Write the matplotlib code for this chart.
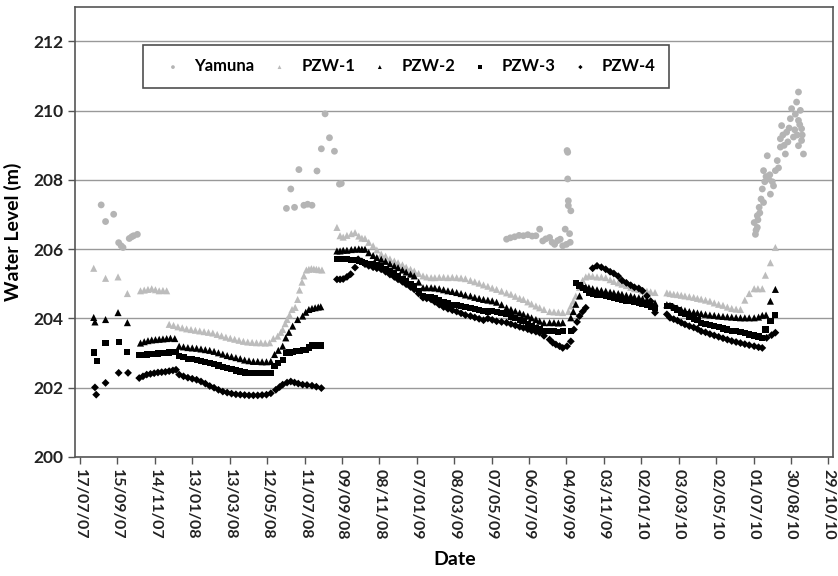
import matplotlib.pyplot as plt
import matplotlib.dates as mdates
import pandas as pd

# --- Data (days after 17/07/2007, water level in m) ---
START = "2007-07-17"

yamuna_day = [34, 41, 54, 62, 66, 69, 79, 83, 86, 92,
              331, 338, 344, 351, 359, 365, 372, 380, 387, 393, 400, 408, 416, 419,
              684, 690, 697, 704, 711, 718, 725, 731, 737, 742, 747, 753, 757, 761,
              766, 770, 774, 778, 780, 781, 782, 782, 783, 783, 787, 785, 786,
              1081, 1083, 1084, 1086, 1086, 1087, 1089, 1090, 1092, 1094, 1096, 1096,
              1098, 1100, 1102, 1104, 1106, 1107, 1110, 1112, 1115, 1118, 1120, 1123,
              1123, 1125, 1127, 1129, 1131, 1133, 1135, 1137, 1139, 1141, 1144, 1146,
              1147, 1149, 1150, 1152, 1152, 1152, 1154, 1155, 1157, 1157, 1158, 1160]
yamuna_val = [207.28, 206.80, 207.01, 206.19, 206.10, 206.05, 206.31, 206.36, 206.39, 206.43,
              207.18, 207.74, 207.21, 208.30, 207.27, 207.30, 207.27, 208.26, 208.90, 209.91,
              209.22, 208.83, 207.88, 207.90,
              206.29, 206.33, 206.36, 206.40, 206.39, 206.42, 206.38, 206.39, 206.58, 206.24,
              206.30, 206.34, 206.20, 206.14, 206.25, 206.29, 206.10, 206.58, 206.14, 208.85,
              208.80, 208.03, 207.40, 207.26, 207.11, 206.45, 206.20,
              206.77, 206.43, 206.55, 206.63, 206.97, 206.85, 207.21, 207.05, 207.45, 207.74,
              207.35, 208.27, 207.95, 208.10, 208.70, 208.03, 208.15, 207.59, 207.95, 207.83,
              208.27, 208.56, 208.35, 209.19, 208.95, 209.57, 209.30, 209.00, 208.75, 209.38,
              209.10, 209.50, 209.77, 210.06, 209.24, 209.45, 209.90, 210.25, 209.30, 210.54,
              209.72, 208.99, 209.60, 210.01, 209.48, 209.14, 209.30, 208.75]

pzw1_day = [22, 41, 61, 76,
            97, 103, 109, 115, 121, 127, 133, 139,
            143, 150, 157, 164, 171, 178, 185, 192, 199, 206, 213, 220, 227, 234, 241,
            248, 255, 262, 269, 276, 283, 290, 297, 304, 310, 317, 322, 325, 329, 332,
            336, 340, 345, 349, 352, 356, 359, 363, 367, 371, 375, 379, 383, 388,
            412, 417, 422, 428, 435, 441, 447, 452, 457, 463, 470, 476, 483, 490, 497,
            504, 510, 517, 523, 530, 536, 543, 550, 556, 563, 569, 576, 583, 590, 597,
            604, 611, 618, 626, 633, 640, 647, 654, 661, 668, 676, 684, 691, 698, 705,
            711, 718, 724, 731, 737, 744, 753, 760, 767, 774, 783, 787, 791, 795, 801,
            806, 811, 816, 822, 829, 836, 843, 850, 856, 863, 869, 876, 883, 889, 896,
            902, 909, 915, 922,
            941, 946, 952, 958, 964, 970, 977, 984, 990, 996, 1003, 1010, 1017, 1024,
            1031, 1038, 1045, 1052, 1059, 1066, 1073, 1081, 1087, 1094, 1099, 1107, 1115]
pzw1_val = [205.45, 205.16, 205.20, 204.72,
            204.80, 204.82, 204.84, 204.86, 204.83, 204.80, 204.81, 204.80,
            203.83, 203.80, 203.76, 203.73, 203.70, 203.68, 203.66, 203.64, 203.62, 203.60,
            203.58, 203.54, 203.50, 203.46, 203.43, 203.40, 203.37, 203.34, 203.32, 203.31,
            203.30, 203.30, 203.29, 203.30, 203.42, 203.49, 203.60, 203.68, 203.85, 203.97,
            204.10, 204.26, 204.32, 204.55, 204.82, 205.05, 205.23, 205.40, 205.42, 205.44,
            205.43, 205.42, 205.41, 205.40,
            206.63, 206.39, 206.35, 206.40, 206.45, 206.48, 206.38, 206.32, 206.31, 206.20,
            206.10, 205.98, 205.86, 205.80, 205.72, 205.66, 205.61, 205.55, 205.48, 205.42,
            205.37, 205.30, 205.23, 205.20, 205.18, 205.18, 205.19, 205.19, 205.18, 205.19,
            205.18, 205.17, 205.15, 205.10, 205.06, 205.02, 204.97, 204.93, 204.88, 204.84,
            204.79, 204.74, 204.70, 204.64, 204.58, 204.55, 204.48, 204.42, 204.36, 204.31,
            204.26, 204.20, 204.19, 204.18, 204.17, 204.20, 204.36, 204.50, 204.65, 204.90,
            205.10, 205.20, 205.23, 205.22, 205.20, 205.20, 205.18, 205.12, 205.07, 205.03,
            204.99, 204.95, 204.90, 204.86, 204.84, 204.80, 204.79, 204.77, 204.75,
            204.74, 204.72, 204.70, 204.69, 204.67, 204.65, 204.63, 204.61, 204.58,
            204.56, 204.53, 204.50, 204.45, 204.41, 204.38, 204.33, 204.29, 204.27, 204.26,
            204.53, 204.72, 204.86, 204.86, 204.86, 205.25, 205.61, 206.05]

pzw2_day = [22, 24, 41, 61, 76,
            97, 103, 109, 115, 121, 127, 133, 139, 145, 152,
            159, 166, 173, 180, 187, 194, 201, 208, 215, 222, 229, 236, 243, 250, 257,
            264, 271, 278, 285, 292, 299, 306, 312, 318, 325, 330, 335, 341, 349, 357,
            362, 367, 372, 377, 382, 386,
            412, 417, 422, 428, 435, 441, 447, 452, 457, 463, 470, 476, 483, 490, 497,
            504, 510, 517, 523, 530, 536, 543, 550, 556, 563, 569, 576, 583, 590, 597,
            604, 611, 618, 626, 633, 640, 647, 654, 661, 668, 676, 684, 691, 698, 705,
            711, 718, 724, 731, 737, 744, 753, 760, 767, 774, 787, 791, 795, 801, 806,
            811, 816, 822, 829, 836, 843, 850, 856, 863, 869, 876, 883, 889, 896, 902,
            909, 915, 922,
            941, 946, 952, 958, 964, 970, 977, 984, 990, 996, 1003, 1010, 1017, 1024,
            1031, 1038, 1045, 1052, 1059, 1066, 1073, 1081, 1088, 1094, 1100, 1107, 1115]
pzw2_val = [204.03, 203.90, 203.97, 204.17, 203.88,
            203.29, 203.33, 203.36, 203.38, 203.39, 203.40, 203.41, 203.42, 203.43, 203.42,
            203.20, 203.18, 203.16, 203.15, 203.14, 203.12, 203.10, 203.08, 203.05, 203.01,
            202.97, 202.93, 202.90, 202.87, 202.84, 202.80, 202.78, 202.76, 202.76, 202.75,
            202.75, 202.76, 202.96, 203.08, 203.20, 203.44, 203.60, 203.78, 203.97, 204.07,
            204.18, 204.26, 204.29, 204.31, 204.33, 204.34,
            205.95, 205.95, 205.97, 205.97, 205.99, 206.00, 206.01, 206.00, 206.00, 205.90,
            205.82, 205.76, 205.71, 205.65, 205.58, 205.52, 205.47, 205.40, 205.34, 205.28,
            205.23, 205.05, 204.89, 204.89, 204.89, 204.88, 204.86, 204.83, 204.80, 204.78,
            204.75, 204.72, 204.68, 204.65, 204.61, 204.58, 204.55, 204.53, 204.51, 204.47,
            204.40, 204.31, 204.26, 204.21, 204.16, 204.12, 204.07, 204.02, 203.97, 203.92,
            203.88, 203.88, 203.88, 203.87, 203.88, 204.02, 204.20, 204.41, 204.65, 204.93,
            204.91, 204.89, 204.86, 204.83, 204.81, 204.79, 204.76, 204.74, 204.72, 204.70,
            204.67, 204.65, 204.62, 204.60, 204.57, 204.54, 204.50, 204.45,
            204.40, 204.38, 204.34, 204.30, 204.26, 204.23, 204.20, 204.18, 204.16, 204.14,
            204.12, 204.10, 204.09, 204.07, 204.06, 204.05, 204.04, 204.03, 204.02, 204.02,
            204.02, 204.02, 204.04, 204.09, 204.10, 204.50, 204.84]

pzw3_day = [22, 27, 41, 62, 76,
            95, 101, 107, 113, 119, 125, 131, 137, 143, 149, 154,
            159, 166, 173, 180, 187, 194, 201, 208, 215, 222, 229, 236, 243, 250, 257,
            264, 271, 278, 285, 292, 299, 306, 312, 318, 325, 330, 336, 341, 346, 352,
            357, 362, 367, 372, 379, 386,
            412, 417, 422, 428, 435, 441, 447, 452, 457, 463, 470, 476, 483, 490, 497,
            504, 510, 517, 523, 530, 536, 543, 550, 556, 563, 569, 576, 583, 590, 597,
            604, 611, 618, 626, 633, 640, 647, 654, 661, 668, 676, 684, 691, 698, 705,
            711, 718, 724, 731, 737, 744, 753, 760, 767, 774, 787, 795, 801, 806, 811,
            816, 822, 829, 836, 843, 850, 856, 863, 869, 876, 883, 889, 896, 902, 909,
            915, 922,
            941, 946, 952, 958, 964, 970, 977, 984, 990, 996, 1003, 1010, 1017, 1024,
            1031, 1038, 1045, 1052, 1059, 1066, 1073, 1081, 1088, 1094, 1099, 1107, 1115]
pzw3_val = [203.02, 202.78, 203.29, 203.32, 203.03,
            202.94, 202.95, 202.96, 202.97, 202.98, 202.99, 203.00, 203.01, 203.02, 203.03,
            203.04,
            202.91, 202.88, 202.84, 202.82, 202.80, 202.77, 202.75, 202.72, 202.68, 202.64,
            202.60, 202.57, 202.53, 202.50, 202.47, 202.44, 202.43, 202.42, 202.42, 202.42,
            202.42, 202.43, 202.62, 202.71, 202.80, 203.00, 203.02, 203.04, 203.05, 203.07,
            203.09, 203.10, 203.16, 203.22, 203.22, 203.22,
            205.71, 205.71, 205.72, 205.72, 205.70, 205.68, 205.66, 205.64, 205.61, 205.58,
            205.56, 205.54, 205.52, 205.44, 205.37, 205.30, 205.23, 205.15, 205.08, 205.00,
            204.93, 204.79, 204.65, 204.63, 204.61, 204.58, 204.53, 204.48, 204.43, 204.40,
            204.38, 204.35, 204.33, 204.31, 204.28, 204.25, 204.22, 204.20, 204.22, 204.18,
            204.15, 204.12, 204.06, 204.01, 203.96, 203.92, 203.85, 203.79, 203.73, 203.68,
            203.65, 203.63, 203.63, 203.62, 203.63, 203.63, 205.03, 204.95, 204.89, 204.82,
            204.74, 204.71, 204.69, 204.67, 204.65, 204.62, 204.60, 204.57, 204.55, 204.52,
            204.50, 204.47, 204.45, 204.42, 204.38, 204.34, 204.31,
            204.36, 204.36, 204.30, 204.24, 204.17, 204.12, 204.06, 204.00, 203.95, 203.88,
            203.85, 203.81, 203.78, 203.75, 203.71, 203.68, 203.65, 203.63, 203.60, 203.57,
            203.54, 203.51, 203.48, 203.44, 203.68, 203.92, 204.09]

pzw4_day = [24, 26, 41, 62, 77,
            95, 101, 107, 113, 119, 125, 131, 137, 143, 149, 154,
            159, 166, 173, 180, 187, 194, 201, 208, 215, 222, 229, 236, 243, 250, 257,
            264, 271, 278, 285, 292, 299, 306, 314, 320, 325, 332, 338, 344, 350, 357,
            364, 372, 379, 387,
            412, 417, 422, 428, 434, 441, 446, 452, 457, 463, 470, 476, 483, 490, 497,
            504, 510, 517, 523, 530, 536, 543, 550, 556, 563, 569, 576, 583, 590, 597,
            604, 611, 618, 626, 633, 640, 647, 654, 661, 668, 676, 684, 691, 698, 705,
            711, 718, 724, 731, 737, 744, 753, 758, 763, 769, 774, 781, 787, 792, 797,
            801, 806, 811,
            822, 829, 836, 843, 850, 856, 863, 869, 876, 883, 889, 896, 902, 909, 915,
            922,
            941, 946, 952, 958, 964, 970, 977, 984, 990, 996, 1003, 1010, 1017, 1024,
            1031, 1038, 1045, 1052, 1059, 1066, 1073, 1081, 1088, 1094, 1101, 1109, 1115]
pzw4_val = [202.01, 201.80, 202.14, 202.43, 202.43,
            202.28, 202.33, 202.38, 202.40, 202.42, 202.44, 202.45, 202.46, 202.48, 202.50,
            202.52,
            202.38, 202.33, 202.29, 202.26, 202.23, 202.18, 202.12, 202.05, 202.00, 201.94,
            201.89, 201.86, 201.83, 201.81, 201.80, 201.79, 201.78, 201.78, 201.78, 201.79,
            201.80, 201.84, 201.94, 202.02, 202.09, 202.15, 202.18, 202.15, 202.12, 202.09,
            202.08, 202.06, 202.03, 201.99,
            205.13, 205.13, 205.14, 205.20, 205.28, 205.47, 205.71, 205.65, 205.57, 205.52,
            205.48, 205.45, 205.42, 205.35, 205.27, 205.20, 205.13, 205.06, 204.99, 204.91,
            204.84, 204.72, 204.60, 204.58, 204.55, 204.48, 204.40, 204.33, 204.28, 204.24,
            204.20, 204.15, 204.10, 204.07, 204.03, 203.99, 203.95, 204.00, 203.96, 203.92,
            203.90, 203.88, 203.84, 203.80, 203.76, 203.73, 203.69, 203.65, 203.62, 203.59,
            203.50, 203.39, 203.30, 203.25, 203.20, 203.15, 203.20, 203.34, 203.68, 203.90,
            204.07, 204.20, 204.31,
            205.45, 205.52, 205.48, 205.42, 205.35, 205.30, 205.22, 205.10, 205.03, 204.96,
            204.90, 204.87, 204.80, 204.65, 204.50, 204.17,
            204.12, 204.02, 203.98, 203.94, 203.88, 203.83, 203.78, 203.74, 203.70, 203.63,
            203.60, 203.55, 203.51, 203.47, 203.43, 203.39, 203.35, 203.32, 203.29, 203.26,
            203.23, 203.20, 203.17, 203.15, 203.44, 203.52, 203.59]


def to_dates(days):
    return pd.Timestamp(START) + pd.to_timedelta(days, unit="D")


plt.rcParams["font.family"] = ["Lato", "DejaVu Sans"]

fig = plt.figure(figsize=(8.38, 5.76), dpi=100)
ax = fig.add_axes([0.0895, 0.2066, 0.905, 0.7815])

ax.scatter(to_dates(yamuna_day), yamuna_val, marker="o", s=24, color="#b4b4b4",
           edgecolors="none", label="Yamuna", zorder=3)
ax.scatter(to_dates(pzw1_day), pzw1_val, marker="^", s=26, color="#bcbcbc",
           edgecolors="none", label="PZW-1", zorder=3)
ax.scatter(to_dates(pzw2_day), pzw2_val, marker="^", s=26, color="black",
           edgecolors="none", label="PZW-2", zorder=3)
ax.scatter(to_dates(pzw3_day), pzw3_val, marker="s", s=20, color="black",
           edgecolors="none", label="PZW-3", zorder=3)
ax.scatter(to_dates(pzw4_day), pzw4_val, marker="D", s=16, color="black",
           edgecolors="none", label="PZW-4", zorder=3)

# Axes
ax.set_ylim(200, 213)
ax.set_yticks(range(200, 213, 2))
start = pd.Timestamp(START)
ticks = [start + pd.Timedelta(days=60 * i) for i in range(21)]
ax.set_xlim(start - pd.Timedelta(days=8), ticks[-1] + pd.Timedelta(days=8))
ax.set_xticks(ticks)
ax.xaxis.set_major_formatter(mdates.DateFormatter("%d/%m/%y"))
plt.setp(ax.get_xticklabels(), rotation=-90, ha="center", va="top")

ax.tick_params(axis="y", labelsize=12.5)
ax.tick_params(axis="x", labelsize=11.5)
ax.tick_params(axis="both", length=5, color="#555555", width=1)
for lab in ax.get_xticklabels() + ax.get_yticklabels():
    lab.set_fontweight("bold")
    lab.set_color("#222222")

ax.grid(axis="y", color="#999999", linewidth=1)
ax.set_axisbelow(True)
for sp in ax.spines.values():
    sp.set_color("#555555")
    sp.set_linewidth(1.2)

ax.set_ylabel("Water Level (m)", fontsize=14, fontweight="bold", labelpad=8)
ax.set_xlabel("Date", fontsize=14, fontweight="bold", labelpad=8)

leg = ax.legend(loc="upper left", bbox_to_anchor=(0.0896, 0.813, 0.694, 0.102),
                mode="expand", ncol=5, frameon=True, fancybox=False,
                prop={"weight": "bold", "size": 12}, markerscale=0.55,
                handletextpad=0.3, borderpad=0.8, borderaxespad=0)
leg.get_frame().set_edgecolor("#222222")
leg.get_frame().set_linewidth(1.2)

fig.savefig("out.png", dpi=100)
